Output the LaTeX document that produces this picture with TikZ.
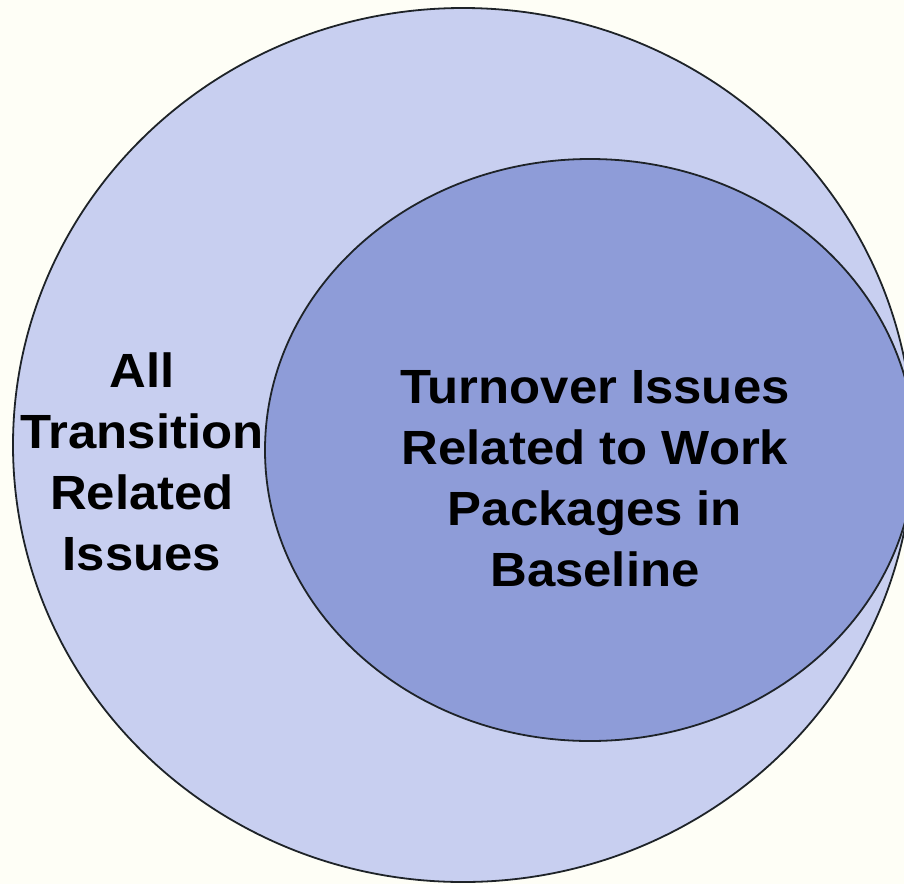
\documentclass[tikz,border=0pt]{standalone}
\usepackage{fontspec}
\setmainfont{Liberation Sans}
\definecolor{bgc}{RGB}{254,254,246}
\definecolor{outerc}{RGB}{200,207,240}
\definecolor{innerc}{RGB}{142,156,216}
\definecolor{edgec}{RGB}{30,35,40}
\begin{document}
\begin{tikzpicture}[x=1pt,y=-1pt,
  venn/.style={draw=edgec,line width=1.8pt},
  lbl/.style={font=\fontsize{48}{61}\selectfont\bfseries\addfontfeature{FakeStretch=1.06},align=center,inner sep=0pt,text=black}]
\fill[bgc] (0,0) rectangle (904,884);
\useasboundingbox (0,0) rectangle (904,884);
\clip (0,0) rectangle (904,884);
\path[venn,fill=outerc] (463,445) ellipse [x radius=450,y radius=437];
\node[coordinate] (outer) at (463,445) {};
\path[venn,fill=innerc] (590,450) ellipse [x radius=325,y radius=291];
\node[coordinate] (inner) at (590,450) {};
\node[lbl] (all) at (142,462) {All\\Transition\\Related\\Issues};
\node[lbl] (turn) at (595,479) {Turnover Issues\\Related to Work\\Packages in\\Baseline};
\end{tikzpicture}
\end{document}
